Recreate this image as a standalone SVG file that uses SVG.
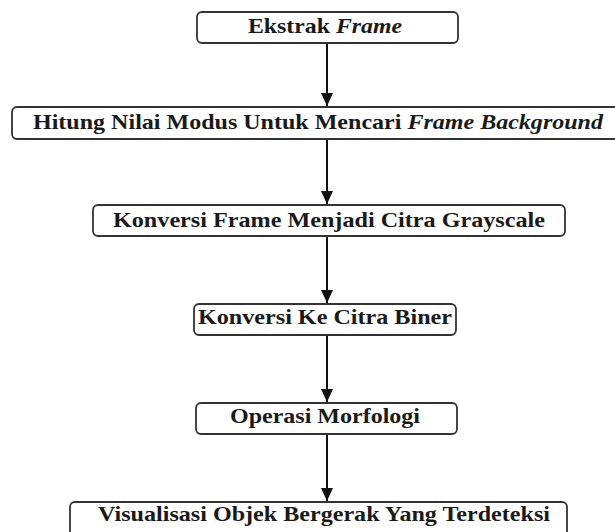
<svg xmlns="http://www.w3.org/2000/svg" width="615" height="532" viewBox="0 0 615 532">
<defs>
<style>
.box{fill:#fff;stroke:#333;stroke-width:1.8}
.t{font-family:"Liberation Serif","Times New Roman",serif;font-weight:bold;font-size:21px;fill:#1a1a1a}
.i{font-style:italic}
.c{stroke:#111;stroke-width:2;fill:none}
</style>
<marker id="ah" markerWidth="13" markerHeight="12" refX="13" refY="6" orient="auto" markerUnits="userSpaceOnUse" viewBox="0 0 13 12">
<path d="M0,0 L13,6 L0,12 Z" fill="#111"/>
</marker>
</defs>
<rect width="615" height="532" fill="#fff"/>
<g id="connectors">
<line class="c" x1="327" y1="43" x2="327" y2="106" marker-end="url(#ah)"/>
<line class="c" x1="327" y1="139" x2="327" y2="204" marker-end="url(#ah)"/>
<line class="c" x1="327" y1="236" x2="327" y2="303" marker-end="url(#ah)"/>
<line class="c" x1="327" y1="335" x2="327" y2="402" marker-end="url(#ah)"/>
<line class="c" x1="327" y1="434" x2="327" y2="501" marker-end="url(#ah)"/>
</g>
<g id="n1">
<rect class="box" x="197" y="12" width="261" height="31" rx="5"/>
<text class="t" x="248" y="33" textLength="154" lengthAdjust="spacingAndGlyphs">Ekstrak <tspan class="i">Frame</tspan></text>
</g>
<g id="n2">
<rect class="box" x="12" y="107" width="610" height="32" rx="5"/>
<text class="t" x="33" y="129" textLength="570" lengthAdjust="spacingAndGlyphs">Hitung Nilai Modus Untuk Mencari <tspan class="i">Frame Background</tspan></text>
</g>
<g id="n3">
<rect class="box" x="93" y="205" width="472" height="31" rx="5"/>
<text class="t" x="113" y="227" textLength="432" lengthAdjust="spacingAndGlyphs">Konversi Frame Menjadi Citra Grayscale</text>
</g>
<g id="n4">
<rect class="box" x="194" y="304" width="262" height="31" rx="5"/>
<text class="t" x="198" y="324" textLength="254" lengthAdjust="spacingAndGlyphs">Konversi Ke Citra Biner</text>
</g>
<g id="n5">
<rect class="box" x="196" y="403" width="261" height="31" rx="5"/>
<text class="t" x="230" y="423" textLength="190" lengthAdjust="spacingAndGlyphs">Operasi Morfologi</text>
</g>
<g id="n6">
<rect class="box" x="70" y="502" width="497" height="40" rx="5"/>
<text class="t" x="98" y="521" textLength="452" lengthAdjust="spacingAndGlyphs">Visualisasi Objek Bergerak Yang Terdeteksi</text>
</g>
</svg>
